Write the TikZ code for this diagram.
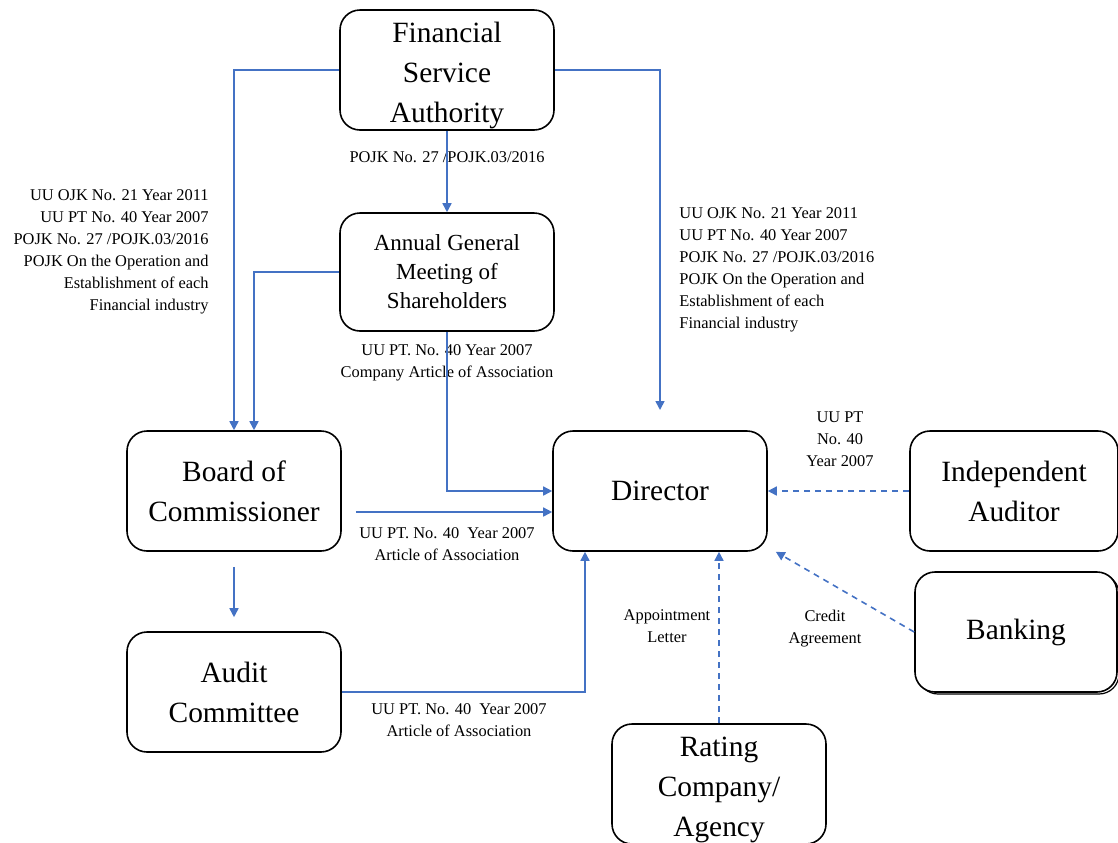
\documentclass[tikz,border=0pt]{standalone}
\usepackage{fontspec}
\setmainfont{Liberation Serif}
\usepackage{tikz}
\usetikzlibrary{calc}
\usetikzlibrary{decorations.markings, arrows.meta}
\definecolor{linkblue}{HTML}{4472C4}
\tikzset{
	box/.style={
			draw, line width=0.8pt, rounded corners=10pt, align=center,
			minimum width=107pt, minimum height=60pt, inner sep=2pt,
			font=\fontsize{14.7}{20}\selectfont
		},
	law/.style={
			font=\fontsize{8.2}{11}\selectfont, inner sep=0pt
		},
	link/.style={
			color=linkblue, line width=0.8pt,
			-{Triangle[length=4.5pt,width=4.5pt]}
		},
	dlink/.style={
			link, dash pattern=on 3pt off 2.5pt
		}
}

\begin{document}
\begin{tikzpicture}[x=0.5pt, y=-0.5pt]
			\useasboundingbox (0,0) rectangle (1118,842);

			% boxes
			\node [box, inner ysep=0pt] (fsa) at (447,70) {\rule{0pt}{15.5pt}Financial\\Service\\Authority};
			\node [box, minimum height=59pt, font=\fontsize{11.5}{14.5}\selectfont] (agms) at (447,272)
				{Annual General\\Meeting of\\Shareholders};
			\node [box] (board) at (234,491) {Board of\\Commissioner};
			\node [box] (audit) at (234,692) {Audit\\Committee};
			\node [box] (director) at (660,491) {Director};
			\node [box, minimum width=104pt] (auditor) at (1014,491) {Independent\\Auditor};
			\path [draw, line width=0.6pt, rounded corners=10pt] (918,574) rectangle (1119,694);
			\node [box, minimum width=101pt, fill=white] (banking) at (1016,632) {Banking};
			\node [box, inner ysep=0pt] (rating) at (719,784) {\rule{0pt}{15.5pt}Rating\\Company/\\Agency};

			% regulations
			\node [law] (fsalaw) at (447,157) {POJK No. 27 /POJK.03/2016};
			\node [law, anchor=east, align=right] (boardlaw) at (209,252)
				{UU OJK No. 21 Year 2011\\UU PT No. 40 Year 2007\\POJK No. 27 /POJK.03/2016\\
				 POJK On the Operation and\\Establishment of each\\Financial industry};
			\node [law, anchor=west, align=left] (dirlaw) at (679,270)
				{UU OJK No. 21 Year 2011\\UU PT No. 40 Year 2007\\POJK No. 27 /POJK.03/2016\\
				 POJK On the Operation and\\Establishment of each\\Financial industry};
			\node [law, align=center] (agmslaw) at (447,363)
				{UU PT. No. 40 Year 2007\\Company Article of Association};
			\node [law, align=center] (boardlaw2) at (447,544)
				{UU PT. No. 40~~Year 2007\\Article of Association};
			\node [law, align=center] (auditlaw) at (459,720)
				{UU PT. No. 40~~Year 2007\\Article of Association};
			\node [law, align=center] (auditorlaw) at (840,439) {UU PT\\No. 40\\Year 2007};
			\node [law, align=center] (banklaw) at (825,629) {Credit\\Agreement};
			\node [law, align=center] (ratinglaw) at (667,626) {Appointment\\Letter};

			\coordinate (fsaend) at (660,410);

			% connectors
			\draw [link] (fsa.west) -| (board.north);
			\draw [link] (fsa.east) -| (fsaend);
			\draw [link] (fsa.south) -- (agms.north);
			\draw [link] (agms.west) -| ($(board.north)+(20,0)$);
			\draw [link] (agms.south) |- (director.west);
			\draw [link] ($(board.east)+(14,21)$) -- ($(director.west)+(0,21)$);
			\draw [link] ($(board.south)+(0,15)$) -- ($(audit.north)+(0,-14)$);
			\draw [link] (audit.east) -| ($(director.south)+(-75,0)$);
			\draw [dlink] (auditor.west) -- (director.east);
			\draw [dlink] (banking.west) -- ($(director.south east)+(8,0)$);
			\draw [dlink] (rating.north) -- (rating.north |- director.south);
		\end{tikzpicture}
\end{document}
